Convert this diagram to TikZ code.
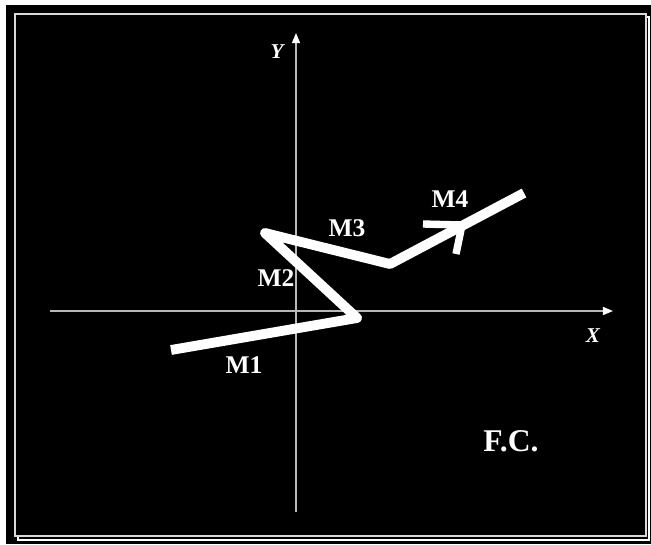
\documentclass[tikz,border=0pt]{standalone}
\usepackage{fontspec}
\setmainfont{Liberation Serif}
\usetikzlibrary{arrows.meta}
\definecolor{axisgray}{gray}{0.72}
\begin{document}
\begin{tikzpicture}[x=0.02cm, y=-0.02cm,
  axis/.style={draw=axisgray, line width=0.85pt, -{Triangle[length=5.8pt, width=4.6pt, color=white]}},
  chain/.style={draw=white, line width=5.6pt, line join=round},
  head/.style={draw=white, line width=4.2pt, line join=round},
  lbl/.style={text=white, font=\fontsize{14.5}{17}\selectfont\bfseries},
  axlbl/.style={text=white, font=\fontsize{12}{14}\selectfont\bfseries\itshape}]
\useasboundingbox (0,0) rectangle (651,544);
% frame
\fill[white] (0,0) rectangle (651,544);
\fill[black] (6,5) rectangle (651,544);
\draw[white, line width=0.85pt] (18,17) rectangle (649,540);
\draw[fill=black, draw=white!85!black, line width=0.85pt] (15,14) rectangle (646,536);
% axes
\coordinate (xl) at (50,311);
\coordinate (xr) at (613,311);
\coordinate (yb) at (296,512);
\coordinate (yt) at (296,33);
\draw[axis] (xl) -- (xr);
\draw[axis] (yb) -- (yt);
\node[axlbl] (xlab) at (593,336) {X};
\node[axlbl] (ylab) at (277,52) {Y};
% mechanism links
\coordinate (p1) at (171,350);
\coordinate (p2) at (357,318);
\coordinate (p3) at (265,233);
\coordinate (p4) at (390,264);
\coordinate (p5) at (524,193);
\draw[chain] (p1) -- (p2) -- (p3) -- (p4) -- (p5);
% arrow head on M4
\coordinate (tip) at (462,225);
\coordinate (h1) at (423,224);
\coordinate (h2) at (456,254);
\draw[head] (h1) -- (tip) -- (h2);
% labels
\node[lbl] (m1) at (244,365) {M1};
\node[lbl] (m2) at (276,278) {M2};
\node[lbl] (m3) at (347,228) {M3};
\node[lbl] (m4) at (450,199) {M4};
\node[text=white, font=\fontsize{18}{21}\selectfont\bfseries] (fc) at (511,441) {F.C.};
\end{tikzpicture}
\end{document}
